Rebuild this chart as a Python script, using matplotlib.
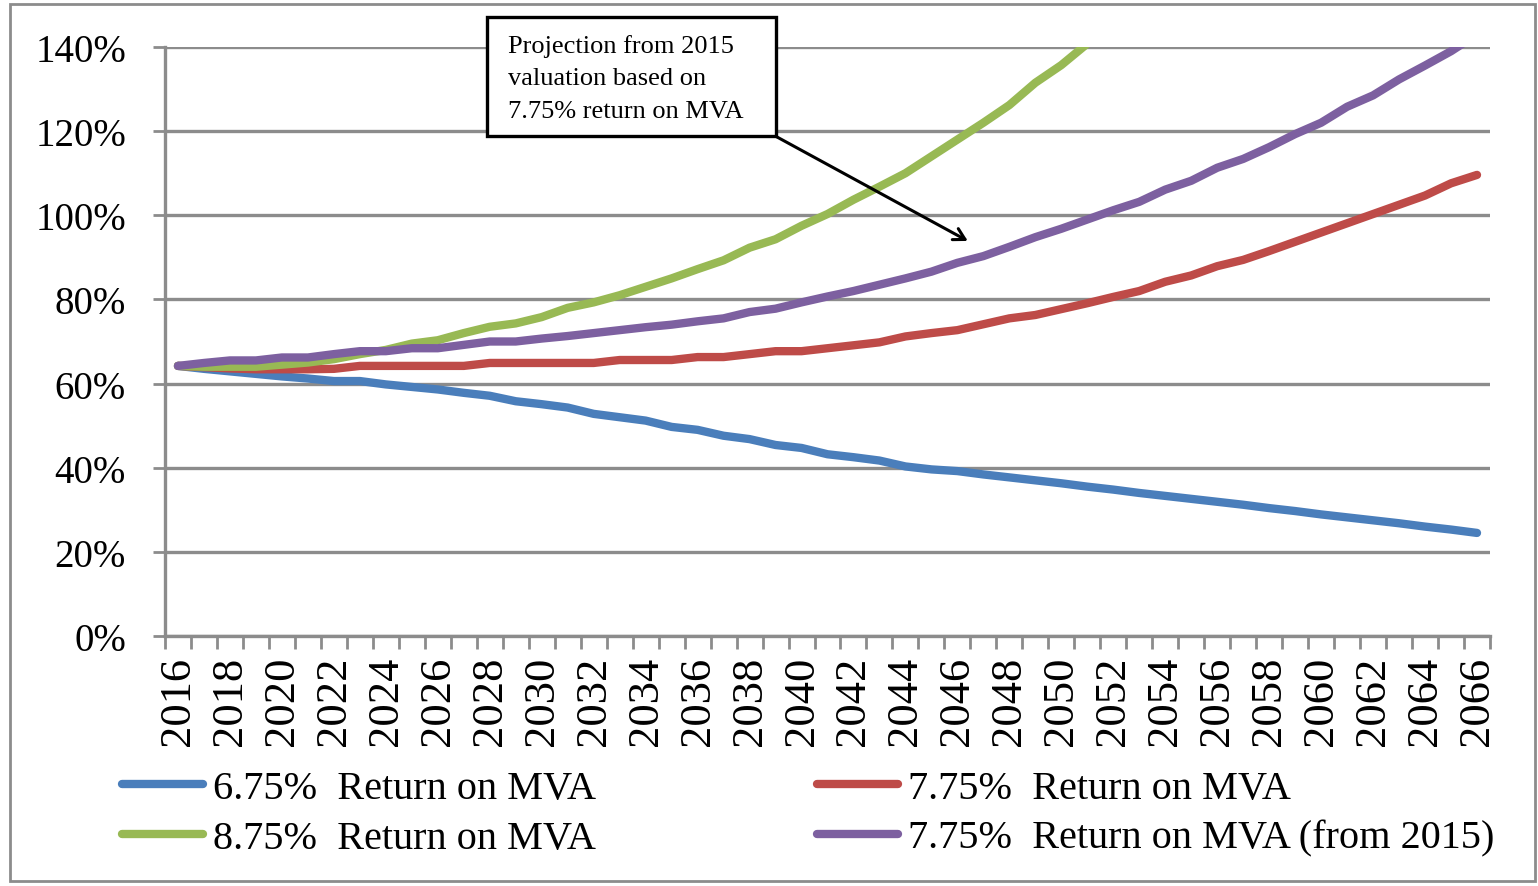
import numpy as np
import matplotlib.pyplot as plt
from matplotlib.patches import Rectangle

# funded ratio projections (%)
years = np.arange(2016, 2067)

ret_675 = [64.2, 63.5, 62.9, 62.3, 61.7, 61.2, 60.6, 60.6, 59.8, 59.2,
           58.6, 57.8, 57.1, 55.8, 55.1, 54.3, 52.8, 52.0, 51.2, 49.7,
           49.0, 47.6, 46.8, 45.4, 44.7, 43.2, 42.5, 41.7, 40.3, 39.6,
           39.2, 38.4, 37.7, 37.0, 36.3, 35.5, 34.8, 34.0, 33.3, 32.6,
           31.9, 31.2, 30.4, 29.7, 28.9, 28.2, 27.5, 26.8, 26.0, 25.3, 24.5]
ret_775 = [64.2, 63.9, 63.6, 63.4, 63.4, 63.4, 63.5, 64.2, 64.2, 64.2,
           64.2, 64.2, 64.9, 64.9, 64.9, 64.9, 64.9, 65.6, 65.6, 65.6,
           66.3, 66.3, 67.0, 67.7, 67.7, 68.4, 69.1, 69.8, 71.2, 72.0,
           72.7, 74.1, 75.5, 76.3, 77.7, 79.1, 80.6, 82.0, 84.2, 85.7,
           87.9, 89.4, 91.5, 93.7, 95.9, 98.1, 100.3, 102.5, 104.7, 107.6, 109.6]
ret_875 = [64.2, 64.0, 64.0, 64.0, 64.5, 65.0, 65.8, 67.0, 68.0, 69.5,
           70.3, 72.0, 73.5, 74.3, 75.8, 78.0, 79.3, 81.0, 83.0, 85.0,
           87.2, 89.3, 92.3, 94.3, 97.5, 100.3, 103.7, 106.8, 110.0, 114.0,
           118.0, 122.0, 126.2, 131.5, 135.7, 140.8, 145.5]
ret_775_2015 = [64.2, 64.9, 65.5, 65.5, 66.2, 66.2, 67.0, 67.7, 67.7, 68.4,
                68.4, 69.2, 70.0, 70.0, 70.7, 71.3, 72.0, 72.7, 73.4, 74.0,
                74.8, 75.5, 77.0, 77.8, 79.3, 80.7, 82.0, 83.5, 85.0, 86.6,
                88.7, 90.3, 92.5, 94.8, 96.8, 99.0, 101.2, 103.2, 106.1, 108.2,
                111.3, 113.4, 116.2, 119.3, 122.0, 125.8, 128.5, 132.3, 135.6, 139.0, 143.0]

labels = ['6.75%  Return on MVA', '7.75%  Return on MVA',
          '8.75%  Return on MVA', '7.75%  Return on MVA (from 2015)']
colors = ['#4a7ebb', '#be4b48', '#98b954', '#7d60a0']
y_ticks = [0, 20, 40, 60, 80, 100, 120, 140]

plt.rcParams['font.family'] = ['Liberation Serif', 'DejaVu Serif']

fig = plt.figure(figsize=(15.38, 8.87), dpi=100)
ax = fig.add_axes([165 / 1538, 250 / 887, 1325 / 1538, 589 / 887])

lines = {}
for name, vals, c in zip(labels, [ret_675, ret_775, ret_875, ret_775_2015], colors):
    lines[name], = ax.plot(years[:len(vals)], vals, color=c, lw=6,
                           solid_capstyle='round', solid_joinstyle='round', zorder=3)

ax.set_xlim(2015.5, 2066.5)
ax.set_ylim(0, 140)

# y axis
ax.set_yticks(y_ticks)
ax.set_yticklabels(['{}%'.format(v) for v in y_ticks])
ax.grid(axis='y', color='#8c8c8c', lw=2.4, zorder=1)
ax.tick_params(axis='y', length=9, width=2, color='#8c8c8c', pad=19, labelsize=28)

# x axis: category style, ticks between years, labels every 2nd year
ax.set_xticks(years[::2])
ax.set_xticklabels([str(y) for y in years[::2]], rotation=90)
ax.set_xticks(np.arange(2015.5, 2067, 1), minor=True)
ax.tick_params(axis='x', which='major', length=0, pad=14, labelsize=32)
ax.tick_params(axis='x', which='minor', length=9, width=2, color='#8c8c8c')

for side in ['top', 'right']:
    ax.spines[side].set_visible(False)
for side in ['left', 'bottom']:
    ax.spines[side].set_color('#8c8c8c')
    ax.spines[side].set_linewidth(2.4)
ax.set_axisbelow(True)

# annotation box + arrow
fig.patches.append(Rectangle((487 / 1538, 750 / 887), 289 / 1538, 119 / 887,
                             transform=fig.transFigure, fill=True, fc='white',
                             ec='black', lw=2.4, zorder=5))
fig.text(508 / 1538, 808 / 887,
         'Projection from 2015\nvaluation based on\n7.75% return on MVA',
         fontsize=19, va='center', ha='left', linespacing=1.6, zorder=6)
ax.annotate('', xy=(2046.4, 93.9), xytext=(2039.0, 118.8),
            arrowprops=dict(arrowstyle='->,head_length=0.8,head_width=0.45',
                            color='black', lw=2.2, shrinkA=0, shrinkB=0),
            zorder=6, annotation_clip=False)

# legend, column-major order
order = [labels[0], labels[2], labels[1], labels[3]]
fig.legend([lines[n] for n in order], order, ncol=2, frameon=False,
           loc='upper left', bbox_to_anchor=(102 / 1538, 136 / 887),
           fontsize=29, handlelength=2.0, handletextpad=0.25,
           columnspacing=5.5, labelspacing=0.3, borderpad=0)

# outer chart border
fig.patches.append(Rectangle((10 / 1538, 5 / 887), 1525 / 1538, 877 / 887,
                             transform=fig.transFigure, fill=False,
                             ec='#8c8c8c', lw=2))

fig.savefig('out.png', dpi=100)
